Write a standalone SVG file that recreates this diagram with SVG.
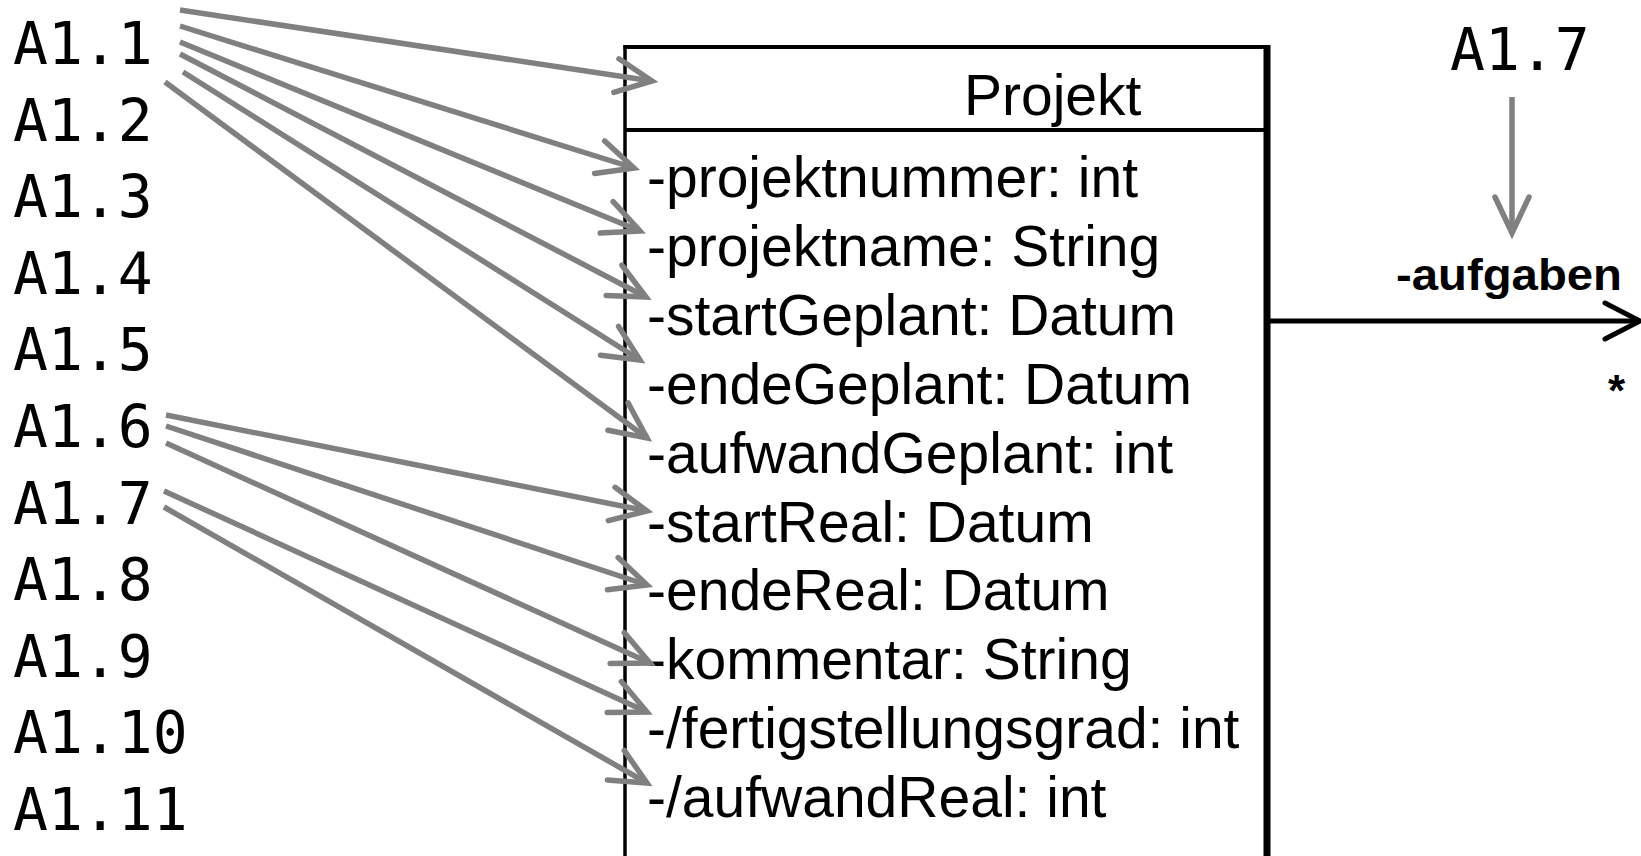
<svg xmlns="http://www.w3.org/2000/svg" width="1641" height="856" viewBox="0 0 1641 856">
<style>
.lbl{font-family:"DejaVu Sans Mono","Liberation Mono",monospace;font-size:58px;fill:#000}
.attr{font-family:"Liberation Sans",Arial,sans-serif;font-size:57px;fill:#000}
.bold{font-family:"Liberation Sans",Arial,sans-serif;font-weight:bold;fill:#000}
.g{stroke:#808080;stroke-width:5.5;fill:none;stroke-linecap:butt}
.gh{stroke:#808080;stroke-width:5.5;fill:none;stroke-linecap:round;stroke-linejoin:miter}
.k{stroke:#000;fill:none}
</style>
<defs>
<marker id="ga" markerUnits="userSpaceOnUse" viewBox="-45 -25 50 50" markerWidth="50" markerHeight="50" refX="0" refY="0" orient="auto" overflow="visible">
<path d="M-36,-17 L0,0 L-36,17" class="gh"/>
</marker>
</defs>
<rect width="1641" height="856" fill="#fff"/>
<g id="labels">
<text class="lbl" x="13" y="64">A1.1</text>
<text class="lbl" x="13" y="140.6">A1.2</text>
<text class="lbl" x="13" y="217.2">A1.3</text>
<text class="lbl" x="13" y="293.8">A1.4</text>
<text class="lbl" x="13" y="370.4">A1.5</text>
<text class="lbl" x="13" y="447">A1.6</text>
<text class="lbl" x="13" y="523.6">A1.7</text>
<text class="lbl" x="13" y="600.2">A1.8</text>
<text class="lbl" x="13" y="676.8">A1.9</text>
<text class="lbl" x="13" y="753.4">A1.10</text>
<text class="lbl" x="13" y="830">A1.11</text>
<text class="lbl" x="1450" y="70">A1.7</text>
</g>
<g id="projekt">
<path class="k" d="M625,45 V856" stroke-width="3.5"/>
<path class="k" d="M1267,45 V856" stroke-width="7"/>
<path class="k" d="M623.5,47 H1270" stroke-width="4"/>
<path class="k" d="M625,130 H1267" stroke-width="4"/>
<text class="attr" x="964" y="115" font-size="56">Projekt</text>
<text class="attr" x="647" y="197">-projektnummer: int</text>
<text class="attr" x="647" y="266">-projektname: String</text>
<text class="attr" x="647" y="335">-startGeplant: Datum</text>
<text class="attr" x="647" y="404">-endeGeplant: Datum</text>
<text class="attr" x="647" y="473">-aufwandGeplant: int</text>
<text class="attr" x="647" y="542">-startReal: Datum</text>
<text class="attr" x="647" y="610">-endeReal: Datum</text>
<text class="attr" x="647" y="679">-kommentar: String</text>
<text class="attr" x="647" y="748">-/fertigstellungsgrad: int</text>
<text class="attr" x="647" y="817">-/aufwandReal: int</text>
</g>
<g id="connectors">
<path class="g" marker-end="url(#ga)" d="M180,10 L652,81"/>
<path class="g" marker-end="url(#ga)" d="M180,26 L634,168"/>
<path class="g" marker-end="url(#ga)" d="M180,42 L640,231"/>
<path class="g" marker-end="url(#ga)" d="M180,54 L646,297"/>
<path class="g" marker-end="url(#ga)" d="M183,72 L640,360"/>
<path class="g" marker-end="url(#ga)" d="M165,82 L647,438"/>
<path class="g" marker-end="url(#ga)" d="M166,415 L647,511"/>
<path class="g" marker-end="url(#ga)" d="M166,426 L647,585"/>
<path class="g" marker-end="url(#ga)" d="M166,443 L650,663"/>
<path class="g" marker-end="url(#ga)" d="M164,491 L647,712"/>
<path class="g" marker-end="url(#ga)" d="M164,507 L647,783"/>
<path class="g" marker-end="url(#ga)" d="M1512,97 L1512,233"/>
<path class="k" stroke-width="5" d="M1270,321 H1638"/>
<path class="k" stroke-width="5" stroke-linecap="round" d="M1605,303 L1640,321 L1605,339"/>
<text class="bold" x="1396" y="290" font-size="45" textLength="226" lengthAdjust="spacingAndGlyphs">-aufgaben</text>
<text class="bold" x="1608" y="406" font-size="44">*</text>
</g>
</svg>
